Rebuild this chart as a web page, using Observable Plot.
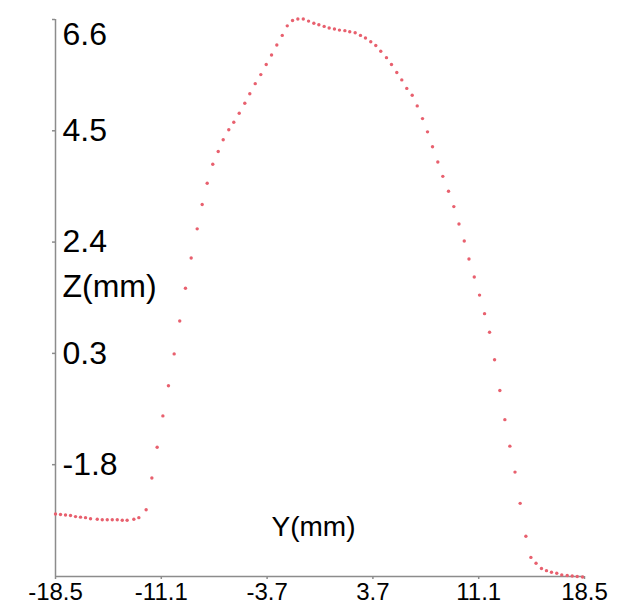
<!DOCTYPE html>
<html><head><meta charset="utf-8">
<script src="https://cdn.jsdelivr.net/npm/d3@7"></script>
<script src="https://cdn.jsdelivr.net/npm/@observablehq/plot@0.6"></script>
<style>html,body{margin:0;padding:0;background:#fff;}</style>
</head><body><div id="chart"></div>
<script>
// Y position (mm) of each measured point
const yPos = [-18.5,-18.15,-17.80,-17.45,-17.10,-16.75,-16.40,-16.05,-15.58,-15.23,-14.88,-14.53,-14.18,-13.83,-13.49,-13.02,-12.67,
  -12.16,-11.76,-11.39,-10.99,-10.60,-10.20,-9.81,-9.41,-9.01,-8.59,-8.24,-7.89,-7.50,-7.12,-6.77,-6.38,-6.03,-5.65,-5.26,
  -4.91,-4.53,-4.14,-3.76,-3.39,-3.02,-2.64,-2.29,-1.92,-1.55,-1.17,-0.80,-0.43,-0.08,0.29,0.64,1.01,1.36,1.74,2.08,
  2.46,2.83,3.18,3.55,3.90,4.25,4.65,5.00,5.37,5.72,6.07,6.45,6.80,7.17,7.52,7.87,8.24,8.59,8.99,9.36,
  9.72,10.09,10.42,10.79,11.16,11.51,11.86,12.21,12.58,12.93,13.28,13.64,14.00,14.40,14.75,15.11,15.49,15.84,16.19,16.56,
  16.91,17.29,17.64,17.99,18.36];
// Z height (mm) of each measured point
const zHeight = [-2.73,-2.74,-2.75,-2.76,-2.78,-2.79,-2.80,-2.82,-2.83,-2.84,-2.84,-2.84,-2.84,-2.85,-2.85,-2.83,-2.80,
  -2.65,-2.05,-1.47,-0.88,-0.31,0.29,0.91,1.53,2.10,2.65,3.11,3.51,3.87,4.11,4.33,4.52,4.66,4.83,5.02,
  5.20,5.39,5.56,5.75,5.93,6.12,6.30,6.48,6.58,6.61,6.61,6.57,6.53,6.50,6.47,6.44,6.42,6.40,6.39,6.37,
  6.35,6.30,6.25,6.18,6.11,6.00,5.88,5.75,5.60,5.46,5.30,5.17,4.97,4.73,4.48,4.20,3.91,3.64,3.36,3.07,
  2.74,2.42,2.08,1.74,1.40,1.05,0.70,0.18,-0.40,-0.95,-1.45,-1.94,-2.53,-3.15,-3.55,-3.66,-3.76,-3.80,-3.83,-3.85,
  -3.88,-3.89,-3.90,-3.91,-3.92];
const xTicks = [-18.5, -11.1, -3.7, 3.7, 11.1, 18.5];
const yTicks = [6.6, 4.5, 2.4, 0.3, -1.8];
const yTicksTop = [6.6];
const yTicksRest = [4.5, 2.4, 0.3, -1.8];
const xDomain = [-18.5, 18.5];
const yDomain = [-3.91, 6.6];
const xLabel = "Y(mm)";
const yLabel = "Z(mm)";

const data = yPos.map((y, i) => ({y, z: zHeight[i]}));
const font = "'Liberation Sans', Arial, sans-serif";
const axisColor = "#8c8c8c";
const fmt = d => String(d);

const chart = Plot.plot({
  width: 619, height: 605,
  marginLeft: 55, marginRight: 35, marginTop: 19, marginBottom: 29,
  style: {fontFamily: font, background: "#fff", color: "#000"},
  x: {domain: xDomain, label: null},
  y: {domain: yDomain, label: null},
  marks: [
    Plot.ruleX([xDomain[0]], {stroke: axisColor, strokeWidth: 1.5}),
    Plot.ruleY([yDomain[0]], {stroke: axisColor, strokeWidth: 1.5}),
    Plot.axisX(xTicks, {tickSize: 3, tickPadding: 3, stroke: axisColor, strokeWidth: 1.5, fill: "#000", fontSize: 24, tickFormat: fmt, label: null}),
    Plot.axisY(yTicks, {tickSize: 3, stroke: axisColor, strokeWidth: 1.5, fill: "none", label: null}),
    Plot.axisY(yTicksRest, {tickSize: 0, tickPadding: -7, textAnchor: "start", fill: "#000", fontSize: 32, tickFormat: fmt, label: null}),
    Plot.axisY(yTicksTop, {tickSize: 0, tickPadding: -7, textAnchor: "start", dy: 15, fill: "#000", fontSize: 32, tickFormat: fmt, label: null}),
    Plot.dot(data, {x: "y", y: "z", r: 1.7, fill: "#e8606e", stroke: "none"}),
    Plot.text([yLabel], {frameAnchor: "left", textAnchor: "start", dx: 7, dy: -11, fontSize: 32, fill: "#000"}),
    Plot.text([xLabel], {frameAnchor: "bottom", dx: -6.5, dy: -41, fontSize: 28, fill: "#000"})
  ]
});
document.getElementById("chart").appendChild(chart);
</script>
</body></html>
